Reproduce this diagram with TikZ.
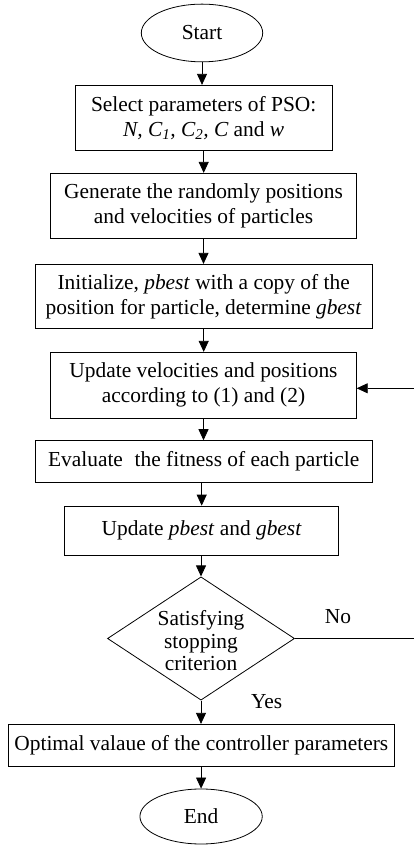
\documentclass[tikz,border=0pt]{standalone}
\usepackage{fontspec}
\setmainfont{Liberation Serif}
\usetikzlibrary{shapes.geometric,arrows.meta}
\begin{document}
\begin{tikzpicture}[x=1pt,y=1pt,
  every node/.style={font=\fontsize{21.4}{25}\selectfont},
  boxnode/.style={draw, line width=0.8pt, rectangle, inner sep=0pt, align=center},
  termnode/.style={draw, line width=0.8pt, ellipse, inner sep=0pt},
  arr/.style={line width=0.8pt, -{Triangle[length=11pt,width=10pt]}},
  plain/.style={line width=0.8pt}]
\useasboundingbox (0,0) rectangle (414,845);
\node[termnode, minimum width=121.4pt, minimum height=57.7pt] (start) at (202,812) {Start};
\node[boxnode, minimum width=257.3pt, minimum height=65.4pt] (b1) at (203.7,727) {Select parameters of PSO:\\{\itshape N, C\textsubscript{1}, C\textsubscript{2}, C} and {\itshape w}};
\node[boxnode, minimum width=305.6pt, minimum height=65pt] (b2) at (203.5,639.2) {Generate the randomly positions\\and velocities of particles};
\node[boxnode, minimum width=337.3pt, minimum height=64pt] (b3) at (203.7,548.7) {Initialize, \textit{pbest} with a copy of the\\position for particle, determine \textit{gbest}};
\node[boxnode, minimum width=305.6pt, minimum height=66pt] (b4) at (203.5,459.7) {Update velocities and positions\\according to (1) and (2)};
\node[boxnode, minimum width=337.3pt, minimum height=41.3pt] (b5) at (203.7,383.7) {Evaluate\hspace{0.55em}the fitness of each particle};
\node[boxnode, minimum width=274pt, minimum height=49.3pt] (b6) at (201.7,314.3) {Update \textit{pbest} and \textit{gbest}};
\node[draw, line width=0.8pt, diamond, aspect=1.52, inner sep=0pt, minimum width=187pt, minimum height=123.3pt] (d) at (201,206.5) {};
\node[align=center, font=\fontsize{21.4}{22.5}\selectfont] (dtext) at (201,204) {Satisfying\\stopping\\criterion};
\node (no) at (338,228.3) {No};
\node (yes) at (266.7,143.3) {Yes};
\node[boxnode, minimum width=386pt, minimum height=42.4pt] (b7) at (201.3,99.5) {Optimal valaue of the controller parameters};
\node[termnode, minimum width=122.3pt, minimum height=55pt] (end) at (201.1,28.5) {End};
\coordinate (fbA) at (414,206.5);
\coordinate (fbB) at (414,456.7);
\draw[arr] (start.south) -- (start.south |- b1.north);
\draw[arr] (b1.south) -- (b1.south |- b2.north);
\draw[arr] (b2.south) -- (b2.south |- b3.north);
\draw[arr] (b3.south) -- (b3.south |- b4.north);
\draw[arr] (b4.south) -- (b4.south |- b5.north);
\draw[arr] (b6.north |- b5.south) -- (b6.north);
\draw[arr] (b6.south -| d.north) -- (d.north);
\draw[arr] (d.south) -- (d.south |- b7.north);
\draw[arr] (b7.south -| end.north) -- (end.north);
\draw[plain] (d.east) -- (fbA);
\draw[arr] (fbB) -- (b4.east |- fbB);
\end{tikzpicture}
\end{document}
